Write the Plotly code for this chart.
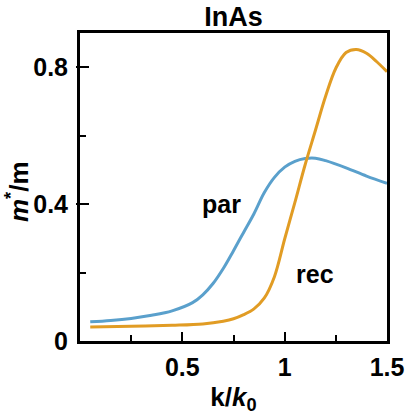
import plotly.graph_objects as go

# data
k_par = [0.05, 0.15, 0.25, 0.35, 0.45, 0.55, 0.60, 0.65, 0.70, 0.75, 0.80,
         0.85, 0.90, 0.95, 1.00, 1.05, 1.10, 1.15, 1.20, 1.30, 1.40, 1.50]
m_par = [0.056, 0.060, 0.066, 0.075, 0.088, 0.112, 0.135, 0.168, 0.212, 0.264, 0.318,
         0.372, 0.433, 0.478, 0.508, 0.525, 0.533, 0.534, 0.527, 0.506, 0.482, 0.461]

k_rec = [0.05, 0.25, 0.45, 0.60, 0.70, 0.75, 0.80, 0.85, 0.90, 0.95, 1.00,
         1.05, 1.10, 1.15, 1.20, 1.25, 1.30, 1.35, 1.40, 1.45, 1.50]
m_rec = [0.041, 0.043, 0.046, 0.050, 0.058, 0.065, 0.077, 0.094, 0.125, 0.188, 0.298,
         0.405, 0.515, 0.615, 0.715, 0.797, 0.843, 0.852, 0.841, 0.816, 0.787]

x_tickvals = [0.5, 1.0, 1.5]
x_ticktext = ["0.5", "1", "1.5"]
x_minor = [0.25, 0.75, 1.25]
y_tickvals = [0, 0.4, 0.8]
y_ticktext = ["0", "0.4", "0.8"]
y_minor = [0.2, 0.6]

labels = ["par", "rec"]
label_x = [0.689, 1.147]
label_y = [0.400, 0.195]

BLUE = "#5AA0CC"
ORANGE = "#E19C24"
FONT = "Liberation Sans"
FS = 25

W, H = 407, 415
ML, MR, MT, MB = 80, 20, 33, 74

fig = go.Figure()
fig.add_trace(go.Scatter(x=k_par, y=m_par, mode="lines",
                         line=dict(color=BLUE, width=3, shape="spline", smoothing=1.0),
                         showlegend=False, cliponaxis=False))
fig.add_trace(go.Scatter(x=k_rec, y=m_rec, mode="lines",
                         line=dict(color=ORANGE, width=3, shape="spline", smoothing=1.0),
                         showlegend=False, cliponaxis=False))

for t, x, y in zip(labels, label_x, label_y):
    fig.add_annotation(x=x, y=y, text=t, showarrow=False,
                       font=dict(family=FONT, size=FS, color="black", weight="bold"))

# y-axis title drawn as a rotated annotation so it sits clear of the tick labels
fig.add_annotation(x=0, xref="paper", y=0.5, yref="paper",
                   xanchor="center", yanchor="middle", xshift=17 - ML, yshift=-5,
                   text="<i>m</i><sup>*</sup>/m", textangle=-90, showarrow=False,
                   font=dict(family=FONT, size=26, color="black", weight="bold"))

fig.update_layout(
    width=W, height=H,
    margin=dict(l=ML, r=MR, t=MT, b=MB),
    paper_bgcolor="white", plot_bgcolor="white",
    font=dict(family=FONT, size=FS, color="black", weight="bold"),
    title=dict(text="InAs", x=0.5, xref="paper", xanchor="center",
               y=1 - 17 / H, yref="container", yanchor="middle",
               automargin=False,
               font=dict(family=FONT, size=27, color="black", weight="bold")),
    xaxis=dict(range=[0, 1.5], showgrid=False, zeroline=False, automargin=False,
               showline=True, linecolor="black", linewidth=3, mirror=True,
               ticks="inside", ticklen=9, tickwidth=2, tickcolor="black",
               tickvals=x_tickvals, ticktext=x_ticktext,
               minor=dict(tickvals=x_minor, ticks="inside", ticklen=6,
                          tickwidth=2, tickcolor="black"),
               tickfont=dict(family=FONT, size=FS, weight="bold"),
               ticklabelstandoff=2,
               title=dict(text="k/<i>k</i><sub>0</sub>", standoff=13,
                          font=dict(family=FONT, size=26, weight="bold"))),
    yaxis=dict(range=[0, 0.9], showgrid=False, zeroline=False, automargin=False,
               showline=True, linecolor="black", linewidth=3, mirror=True,
               ticks="inside", ticklen=9, tickwidth=2, tickcolor="black",
               tickvals=y_tickvals, ticktext=y_ticktext,
               minor=dict(tickvals=y_minor, ticks="inside", ticklen=6,
                          tickwidth=2, tickcolor="black"),
               tickfont=dict(family=FONT, size=FS, weight="bold"),
               ticklabelstandoff=4),
    yaxis2=dict(range=[0, 0.9], overlaying="y", side="left", anchor="x",
                automargin=False,
                showgrid=False, zeroline=False, showline=False,
                ticks="outside", ticklen=3, tickwidth=2, tickcolor="black",
                tickvals=[0.4, 0.8], showticklabels=False),
)
fig.add_trace(go.Scatter(x=[None], y=[None], yaxis="y2", showlegend=False, hoverinfo="skip"))

fig.write_html("out.html",
               config={"displayModeBar": False},
               post_script="document.body.style.margin='0px';"
                           "document.body.style.overflow='hidden';")
